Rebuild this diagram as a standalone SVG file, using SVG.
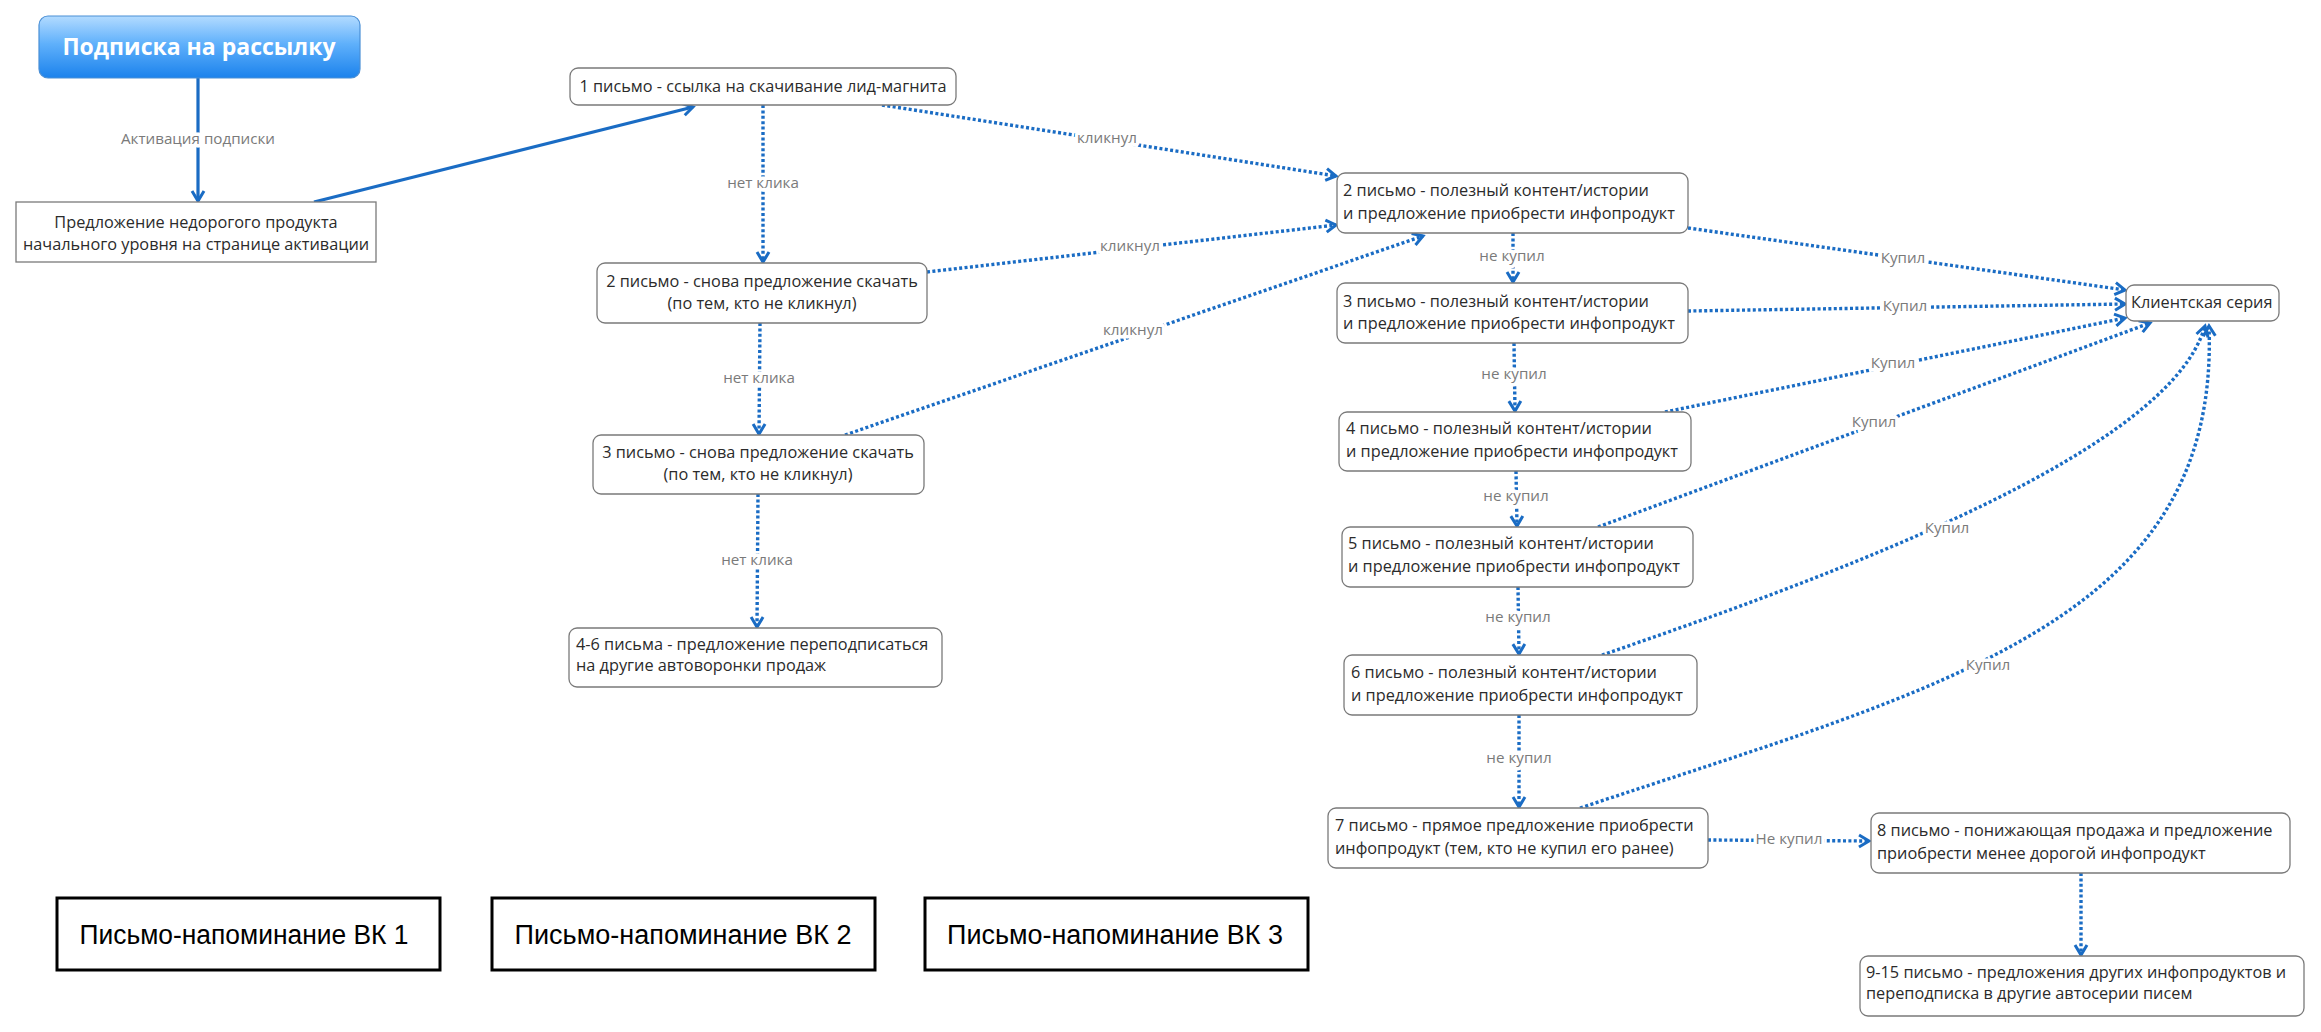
<svg xmlns="http://www.w3.org/2000/svg" width="2321" height="1032" viewBox="0 0 2321 1032">
<defs>
<linearGradient id="tg" x1="0" y1="0" x2="0" y2="1">
<stop offset="0" stop-color="#b3dbff"/>
<stop offset="0.45" stop-color="#5fb0fb"/>
<stop offset="1" stop-color="#1b82ec"/>
</linearGradient>
<marker id="ah" markerUnits="userSpaceOnUse" markerWidth="16" markerHeight="16" viewBox="0 0 16 16" refX="13" refY="8" orient="auto">
<path d="M3,2 L13,8 L3,14" fill="none" stroke="#1a6cc4" stroke-width="3"/>
</marker>
</defs>
<style>
.nd{fill:#fff;stroke:#7a7a7a;stroke-width:1.3}
.t{font-family:"Open Sans","Noto Sans",sans-serif;font-size:16.3px;fill:#2b2b2b}
.c{text-anchor:middle}
.lb{font-family:"Open Sans","Noto Sans",sans-serif;font-size:15.2px;fill:#7a7a7a;text-anchor:middle;stroke:#fff;stroke-width:7;paint-order:stroke;stroke-linejoin:round}
.s{fill:none;stroke:#1a6cc4;stroke-width:3.2;marker-end:url(#ah)}
.d{fill:none;stroke:#1a6cc4;stroke-width:3.4;stroke-dasharray:3 2.4;marker-end:url(#ah)}
.vk{fill:#fff;stroke:#000;stroke-width:3}
.vt{font-family:"Liberation Sans",Arial,sans-serif;font-size:27px;fill:#000;text-anchor:middle}
</style>
<rect width="2321" height="1032" fill="#fff"/>
<g id="connectors">
<path class="s" d="M198,78 L198,201"/>
<path class="s" d="M314,202 L693,107"/>
<path class="d" d="M763,105 L763,262"/>
<path class="d" d="M882,105 L1336,176"/>
<path class="d" d="M927,272 L1336,225"/>
<path class="d" d="M845,435 L1423,236"/>
<path class="d" d="M760,323 L759,434"/>
<path class="d" d="M758,494 L757,627"/>
<path class="d" d="M1513,233 L1513,282"/>
<path class="d" d="M1514,343 L1515,411"/>
<path class="d" d="M1516,471 L1517,526"/>
<path class="d" d="M1518,587 L1519,654"/>
<path class="d" d="M1519,715 L1519,807"/>
<path class="d" d="M1688,228 L2125,290"/>
<path class="d" d="M1688,311 L2125,304"/>
<path class="d" d="M1665,412 L2125,318"/>
<path class="d" d="M1598,527 L2150,323"/>
<path class="d" d="M1602,655 C1850,570 2170,450 2205,326"/>
<path class="d" d="M1580,808 C1950,685 2220,620 2209,326"/>
<path class="d" d="M1708,840 L1869,841"/>
<path class="d" d="M2081,873 L2081,955"/>
<text class="lb" x="198" y="144">Активация подписки</text>
<text class="lb" x="763" y="188">нет клика</text>
<text class="lb" x="1107" y="143">кликнул</text>
<text class="lb" x="1130" y="251">кликнул</text>
<text class="lb" x="1133" y="335">кликнул</text>
<text class="lb" x="759" y="383">нет клика</text>
<text class="lb" x="757" y="565">нет клика</text>
<text class="lb" x="1512" y="261">не купил</text>
<text class="lb" x="1514" y="379">не купил</text>
<text class="lb" x="1516" y="501">не купил</text>
<text class="lb" x="1518" y="622">не купил</text>
<text class="lb" x="1519" y="763">не купил</text>
<text class="lb" x="1903" y="263">Купил</text>
<text class="lb" x="1905" y="311">Купил</text>
<text class="lb" x="1893" y="368">Купил</text>
<text class="lb" x="1874" y="427">Купил</text>
<text class="lb" x="1947" y="533">Купил</text>
<text class="lb" x="1988" y="670">Купил</text>
<text class="lb" x="1789" y="844">Не купил</text>
</g>
<g id="n-title">
<rect x="39" y="16" width="321" height="62" rx="9" fill="url(#tg)" stroke="#4a8fd6" stroke-width="1.2"/>
<text x="199" y="55" font-family="'Open Sans','Noto Sans',sans-serif" font-size="23" font-weight="bold" fill="#fff" text-anchor="middle">Подписка на рассылку</text>
</g>
<g id="n-offer">
<rect class="nd" x="16" y="202" width="360" height="60"/>
<text class="t c" x="196" y="228">Предложение недорогого продукта</text>
<text class="t c" x="196" y="250">начального уровня на странице активации</text>
</g>
<g id="n-l1">
<rect class="nd" x="570" y="68" width="386" height="37" rx="8"/>
<text class="t c" x="763" y="92">1 письмо - ссылка на скачивание лид-магнита</text>
</g>
<g id="n-l2a">
<rect class="nd" x="597" y="263" width="330" height="60" rx="8"/>
<text class="t c" x="762" y="287">2 письмо - снова предложение скачать</text>
<text class="t c" x="762" y="309">(по тем, кто не кликнул)</text>
</g>
<g id="n-l3a">
<rect class="nd" x="593" y="435" width="331" height="59" rx="8"/>
<text class="t c" x="758" y="458">3 письмо - снова предложение скачать</text>
<text class="t c" x="758" y="480">(по тем, кто не кликнул)</text>
</g>
<g id="n-l46">
<rect class="nd" x="569" y="628" width="373" height="59" rx="8"/>
<text class="t" x="576" y="650">4-6 письма - предложение переподписаться</text>
<text class="t" x="576" y="671">на другие автоворонки продаж</text>
</g>
<g id="n-p2">
<rect class="nd" x="1337" y="173" width="351" height="60" rx="8"/>
<text class="t" x="1343" y="196">2 письмо - полезный контент/истории</text>
<text class="t" x="1343" y="219">и предложение приобрести инфопродукт</text>
</g>
<g id="n-p3">
<rect class="nd" x="1337" y="283" width="351" height="60" rx="8"/>
<text class="t" x="1343" y="307">3 письмо - полезный контент/истории</text>
<text class="t" x="1343" y="329">и предложение приобрести инфопродукт</text>
</g>
<g id="n-p4">
<rect class="nd" x="1339" y="412" width="352" height="59" rx="8"/>
<text class="t" x="1346" y="434">4 письмо - полезный контент/истории</text>
<text class="t" x="1346" y="457">и предложение приобрести инфопродукт</text>
</g>
<g id="n-p5">
<rect class="nd" x="1342" y="527" width="351" height="60" rx="8"/>
<text class="t" x="1348" y="549">5 письмо - полезный контент/истории</text>
<text class="t" x="1348" y="572">и предложение приобрести инфопродукт</text>
</g>
<g id="n-p6">
<rect class="nd" x="1344" y="655" width="353" height="60" rx="8"/>
<text class="t" x="1351" y="678">6 письмо - полезный контент/истории</text>
<text class="t" x="1351" y="701">и предложение приобрести инфопродукт</text>
</g>
<g id="n-p7">
<rect class="nd" x="1328" y="808" width="380" height="60" rx="8"/>
<text class="t" x="1335" y="831">7 письмо - прямое предложение приобрести</text>
<text class="t" x="1335" y="854">инфопродукт (тем, кто не купил его ранее)</text>
</g>
<g id="n-client">
<rect class="nd" x="2126" y="285" width="153" height="36" rx="8"/>
<text class="t" x="2131" y="308">Клиентская серия</text>
</g>
<g id="n-p8">
<rect class="nd" x="1871" y="813" width="419" height="60" rx="8"/>
<text class="t" x="1877" y="836">8 письмо - понижающая продажа и предложение</text>
<text class="t" x="1877" y="859">приобрести менее дорогой инфопродукт</text>
</g>
<g id="n-p915">
<rect class="nd" x="1860" y="956" width="444" height="60" rx="8"/>
<text class="t" x="1866" y="978">9-15 письмо - предложения других инфопродуктов и</text>
<text class="t" x="1866" y="999">переподписка в другие автосерии писем</text>
</g>
<g id="n-vk1">
<rect class="vk" x="57" y="898" width="383" height="72"/>
<text class="vt" x="244" y="944" textLength="329" lengthAdjust="spacingAndGlyphs">Письмо-напоминание ВК 1</text>
</g>
<g id="n-vk2">
<rect class="vk" x="492" y="898" width="383" height="72"/>
<text class="vt" x="683" y="944" textLength="337" lengthAdjust="spacingAndGlyphs">Письмо-напоминание ВК 2</text>
</g>
<g id="n-vk3">
<rect class="vk" x="925" y="898" width="383" height="72"/>
<text class="vt" x="1115" y="944" textLength="336" lengthAdjust="spacingAndGlyphs">Письмо-напоминание ВК 3</text>
</g>
</svg>
